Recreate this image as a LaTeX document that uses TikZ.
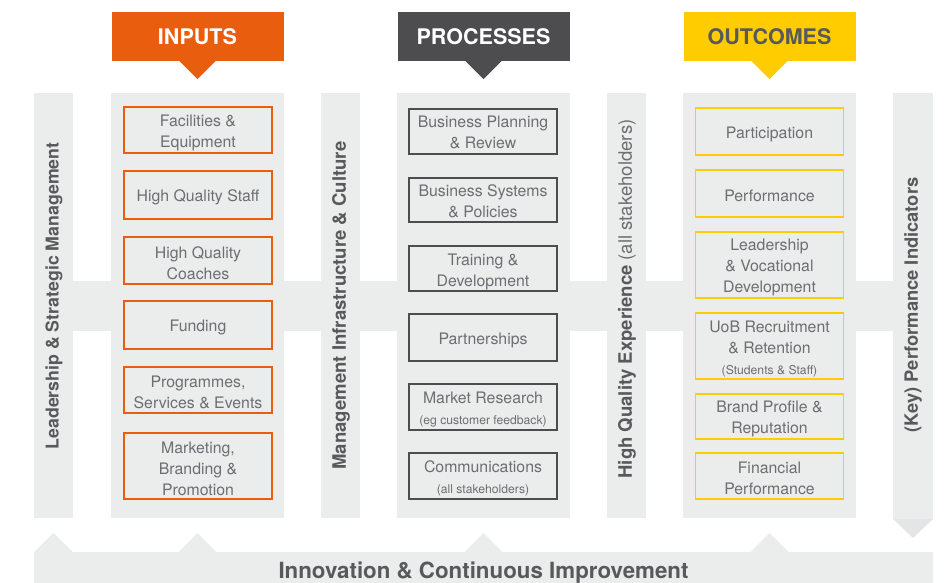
\documentclass[tikz,border=0pt]{standalone}
\usepackage{fontspec}
\setmainfont{TeX Gyre Heros}
\definecolor{panelgray}{HTML}{EBECEC}
\definecolor{tipgray}{HTML}{E4E5E6}
\definecolor{inorange}{HTML}{E95D0F}
\definecolor{procgray}{HTML}{4D4D4F}
\definecolor{outyellow}{HTML}{FFCC00}
\definecolor{labeltext}{HTML}{58595B}
\definecolor{boxtext}{HTML}{6D6E71}
\newcommand\bxfont{\fontsize{15.9}{21}\selectfont}
\newcommand\bxsmall{\fontsize{12.2}{15}\selectfont}
\newcommand\hdfont{\fontsize{21.6}{24}\selectfont\bfseries}
\newcommand\vlfont[1]{\fontsize{#1}{20}\selectfont}
% framed item: empty frame node plus its centred caption (#7 = caption drop)
\newcommand\itembox[7][2.8]{%
  \node[#2, minimum height=#6bp] (#3) at (#4,#5) {};
  \node[itemtext] (#3-t) at ([yshift=-#1bp]#3.center) {#7};}
\begin{document}
\begin{tikzpicture}[x=1bp,y=-1bp,
  panel/.style={fill=panelgray},
  header/.style={minimum width=172bp, minimum height=49bp, inner sep=0pt, font=\hdfont},
  itemframe/.style={line width=1.6bp, minimum width=148bp, inner sep=0pt},
  itemtext/.style={inner sep=0pt, align=center, text=boxtext, font=\bxfont},
  inbox/.style={itemframe, draw=inorange},
  procbox/.style={itemframe, draw=procgray},
  outbox/.style={itemframe, draw=outyellow},
  vlabel/.style={rotate=90, inner sep=0pt, text=labeltext}]
\useasboundingbox (0,0) rectangle (947,583);

% horizontal band linking all columns
\fill[panel] (34,281) rectangle (933,331);
% vertical bars
\fill[panel] (34,93) rectangle (73,518);
\fill[panel] (321,93) rectangle (360,518);
\fill[panel] (607,93) rectangle (646,518);
\fill[panel] (893,93) -- (933,93) -- (933,519) -- (893,519) -- cycle;
\fill[tipgray] (893,519) -- (933,519) -- (913,538) -- cycle;
% column panels
\fill[panel] (111,93) rectangle (284,518);
\fill[panel] (397,93) rectangle (570,518);
\fill[panel] (683,93) rectangle (856,518);
% bottom band with upward pointers
\fill[panel] (34,583) -- (34,552) -- (53.5,533) -- (73,552) -- (178.5,552) -- (197.5,533)
  -- (216.5,552) -- (464.5,552) -- (483.5,533) -- (502.5,552) -- (750.5,552)
  -- (769.5,533) -- (788.5,552) -- (933,552) -- (933,583) -- cycle;
\node[font=\fontsize{22.4}{24}\selectfont\bfseries, text=labeltext] (innov) at (483.5,573)
  {Innovation \& Continuous Improvement};

% column headers with pointers
\node[header, fill=inorange, text=white] (hin) at (197.5,36.5) {INPUTS};
\fill[inorange] (hin.south) ++(-18.5,-0.5) -- ++(37,0) -- ++(-18.5,18.5) -- cycle;
\node[header, fill=procgray, text=white] (hproc) at (483.5,36.5) {PROCESSES};
\fill[procgray] (hproc.south) ++(-18.5,-0.5) -- ++(37,0) -- ++(-18.5,18.5) -- cycle;
\node[header, fill=outyellow, text=labeltext] (hout) at (769.5,36.5) {OUTCOMES};
\fill[outyellow] (hout.south) ++(-18.5,-0.5) -- ++(37,0) -- ++(-18.5,18.5) -- cycle;

% vertical labels
\node[vlabel, font=\vlfont{17.8}] (lead) at (54,296) {\bfseries Leadership \& Strategic Management};
\node[vlabel, font=\vlfont{18.6}] (mgmt) at (341,305.5) {\bfseries Management Infrastructure \& Culture};
\node[vlabel, font=\vlfont{18.6}] (hqe) at (627,299) {\textbf{High Quality Experience} {\color{boxtext}(all stakeholders)}};
\node[vlabel, font=\vlfont{18.4}] (kpi) at (913,305) {\bfseries (Key) Performance Indicators};

% inputs
\itembox{inbox}{in1}{198}{130}{46}{Facilities \&\\Equipment}
\itembox{inbox}{in2}{198}{195}{48}{High Quality Staff}
\itembox{inbox}{in3}{198}{260.5}{47}{High Quality\\Coaches}
\itembox{inbox}{in4}{198}{325}{48}{Funding}
\itembox{inbox}{in5}{198}{390}{46}{Programmes,\\Services \& Events}
\itembox{inbox}{in6}{198}{466}{66}{Marketing,\\Branding \&\\Promotion}

% processes
\itembox[1]{procbox}{pr1}{483}{131.5}{45}{Business Planning\\\& Review}
\itembox[1.2]{procbox}{pr2}{483}{200}{44}{Business Systems\\\& Policies}
\itembox[3.5]{procbox}{pr3}{483}{268.5}{45}{Training \&\\Development}
\itembox{procbox}{pr4}{483}{337.5}{47}{Partnerships}
\itembox{procbox}{pr5}{483}{407}{46}{Market Research\\{\bxsmall (eg customer feedback)}}
\itembox{procbox}{pr6}{483}{476}{46}{Communications\\{\bxsmall (all stakeholders)}}

% outcomes
\itembox{outbox}{out1}{769.5}{131.5}{47}{Participation}
\itembox{outbox}{out2}{769.5}{193.5}{47}{Performance}
\itembox{outbox}{out3}{769.5}{265}{66}{Leadership\\\& Vocational\\Development}
\itembox{outbox}{out4}{769.5}{346}{66}{UoB Recruitment\\\& Retention\\{\bxsmall (Students \& Staff)}}
\itembox{outbox}{out5}{769.5}{416.5}{45}{Brand Profile \&\\Reputation}
\itembox[2]{outbox}{out6}{769.5}{476}{46}{Financial\\Performance}
\end{tikzpicture}
\end{document}
